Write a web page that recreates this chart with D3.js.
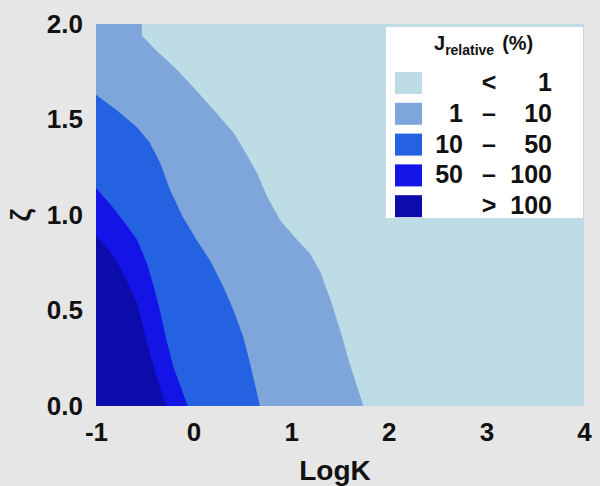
<!DOCTYPE html>
<html>
<head>
<meta charset="utf-8">
<script src="https://cdn.jsdelivr.net/npm/d3@7"></script>
<style>
  body { margin: 0; background: #e6e6e6; }
  svg { display: block; font-family: "Liberation Sans", Arial, sans-serif; font-weight: bold; }
</style>
</head>
<body>
<svg id="chart" width="600" height="486"></svg>
<script>
// contour boundaries as [logK, zeta] points
const bound1 = [[-0.53, 2.0], [-0.53, 1.94], [-0.38, 1.86], [-0.17, 1.76], [0.03, 1.65], [0.24, 1.53],
  [0.41, 1.43], [0.54, 1.32], [0.65, 1.22], [0.75, 1.10], [0.89, 0.97], [1.06, 0.87], [1.19, 0.80],
  [1.30, 0.70], [1.40, 0.56], [1.50, 0.40], [1.60, 0.22], [1.74, 0.0]];
const bound10 = [[-1.0, 1.63], [-0.79, 1.55], [-0.58, 1.46], [-0.45, 1.38], [-0.34, 1.27], [-0.24, 1.13],
  [-0.11, 0.99], [0.03, 0.87], [0.17, 0.76], [0.30, 0.63], [0.41, 0.50], [0.51, 0.36], [0.58, 0.22], [0.68, 0.0]];
const bound50 = [[-1.0, 1.14], [-0.86, 1.06], [-0.72, 0.97], [-0.58, 0.87], [-0.48, 0.75], [-0.41, 0.63],
  [-0.34, 0.49], [-0.28, 0.35], [-0.21, 0.21], [-0.06, 0.0]];
const bound100 = [[-1.0, 0.89], [-0.89, 0.83], [-0.79, 0.76], [-0.69, 0.66], [-0.58, 0.54], [-0.52, 0.42],
  [-0.45, 0.28], [-0.38, 0.15], [-0.28, 0.0]];

const xTicks = [-1, 0, 1, 2, 3, 4];
const yTicks = [0, 0.5, 1.0, 1.5, 2.0];
const levels = ["< 1", "1 – 10", "10 – 50", "50 – 100", "> 100"];
const legendLeft = ["", "1", "10", "50", ""];
const legendOp = ["<", "–", "–", "–", ">"];
const legendRight = ["1", "10", "50", "100", "100"];
const colors = ["#bddce6", "#7fa6da", "#2562e2", "#1414e6", "#0c0caa"];

const margin = { left: 96, right: 16, top: 24, bottom: 80 };
const width = 600 - margin.left - margin.right;
const height = 486 - margin.top - margin.bottom;

const x = d3.scaleLinear().domain([-1, 4]).range([0, width]);
const y = d3.scaleLinear().domain([0, 2]).range([height, 0]);

const svg = d3.select("#chart");
const g = svg.append("g").attr("transform", `translate(${margin.left}, ${margin.top})`);

g.append("rect")
  .attr("width", width)
  .attr("height", height)
  .attr("fill", colors[0]);

const area = d3.area()
  .y(d => y(d[1]))
  .x0(x(-1))
  .x1(d => x(d[0]));

[bound1, bound10, bound50, bound100].forEach((b, i) => {
  g.append("path")
    .datum(b)
    .attr("d", area)
    .attr("fill", colors[i + 1]);
});

const xAxis = d3.axisBottom(x).tickValues(xTicks).tickSize(0).tickPadding(17).tickFormat(d => String(d));
const yAxis = d3.axisLeft(y).tickValues(yTicks).tickSize(0).tickPadding(13).tickFormat(d3.format(".1f"));

g.append("g")
  .attr("class", "x-axis")
  .attr("transform", `translate(0, ${height})`)
  .call(xAxis);

g.append("g")
  .attr("class", "y-axis")
  .call(yAxis);

g.selectAll(".domain").remove();
g.selectAll(".tick text")
  .attr("font-size", 26)
  .attr("font-family", "Liberation Sans, Arial, sans-serif")
  .attr("font-weight", "bold")
  .attr("fill", "#111");

g.append("text")
  .attr("x", width / 2 - 5)
  .attr("y", height + 74)
  .attr("text-anchor", "middle")
  .attr("font-size", 28)
  .attr("fill", "#111")
  .text("LogK");

svg.append("text")
  .attr("transform", `translate(30, 215) rotate(-90)`)
  .attr("text-anchor", "middle")
  .attr("font-size", 28)
  .attr("fill", "#111")
  .text("ζ");

// legend
const lg = svg.append("g").attr("transform", "translate(386, 27)");
lg.append("rect")
  .attr("width", 197)
  .attr("height", 191)
  .attr("fill", "#fff");

const title = lg.append("text")
  .attr("x", 48)
  .attr("y", 23)
  .attr("font-size", 20)
  .attr("fill", "#111");
title.append("tspan").text("J");
title.append("tspan").attr("font-size", 14).attr("dy", 5).text("relative");
title.append("tspan").attr("dy", -5).attr("dx", 8).text("(%)");

const rows = lg.selectAll(".row")
  .data(levels)
  .enter()
  .append("g")
  .attr("class", "row")
  .attr("transform", (d, i) => `translate(0, ${45 + i * 30.8})`);

rows.append("rect")
  .attr("x", 9)
  .attr("width", 27)
  .attr("height", 22)
  .attr("fill", (d, i) => colors[i]);

rows.append("text")
  .attr("x", 77).attr("y", 19).attr("text-anchor", "end")
  .attr("font-size", 25).attr("fill", "#111")
  .text((d, i) => legendLeft[i]);

rows.append("text")
  .attr("x", 103).attr("y", 19).attr("text-anchor", "middle")
  .attr("font-size", 25).attr("fill", "#111")
  .text((d, i) => legendOp[i]);

rows.append("text")
  .attr("x", 166).attr("y", 19).attr("text-anchor", "end")
  .attr("font-size", 25).attr("fill", "#111")
  .text((d, i) => legendRight[i]);
</script>
</body>
</html>
